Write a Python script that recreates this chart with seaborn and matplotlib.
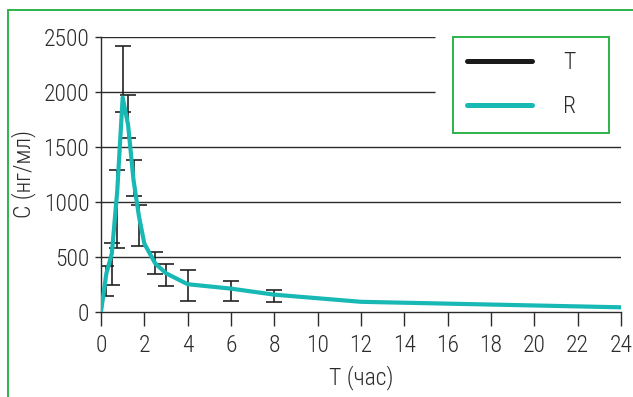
import numpy as np
import pandas as pd
import seaborn as sns
import matplotlib.pyplot as plt
from matplotlib.lines import Line2D

# R (reference) concentration curve
r_time = [0, 0.25, 0.5, 0.75, 1.0, 1.25, 1.5, 1.75, 2.0, 2.5, 3, 4, 6, 8, 12, 24]
r_conc = [0, 350, 530, 1100, 1950, 1700, 1200, 870, 620, 440, 350, 250, 210, 155, 90, 40]

# T (test) mean +/- SD
t_time = [0.25, 0.5, 0.75, 1.0, 1.25, 1.5, 1.75, 2.5, 3, 4, 6, 8]
t_mean = [281, 433, 935, 2115, 1778, 1216, 786, 444, 336, 240, 191, 145]
t_sd = [138, 190, 357, 301, 198, 161, 184, 103, 99, 140, 91, 53]

x_ticks = list(range(0, 25, 2))
y_ticks = [0, 500, 1000, 1500, 2000, 2500]

teal = "#18b8b5"
green = "#2db34a"
dark = "#2b2b2b"

sns.set_theme(style="white")
plt.rcParams['font.family'] = ['Roboto Condensed', 'DejaVu Sans']
plt.rcParams['font.weight'] = 'light'
plt.rcParams['axes.labelweight'] = 'light'
plt.rcParams['text.color'] = dark
plt.rcParams['axes.labelcolor'] = dark
plt.rcParams['xtick.color'] = dark
plt.rcParams['ytick.color'] = dark

fig = plt.figure(figsize=(6.33, 3.97), dpi=100)
ax = fig.add_axes([101/633, (397-311.7)/397, 520/633, 274.7/397])

df_r = pd.DataFrame({'t': r_time, 'c': r_conc})

# gridlines
for y in [500, 1000, 1500]:
    ax.axhline(y, color=dark, lw=1.0, zorder=1)
ax.hlines([2000, 2500], 0, 15.4, color=dark, lw=1.0, zorder=1)

ax.errorbar(t_time, t_mean, yerr=t_sd, fmt='none', ecolor='#222222',
            elinewidth=1.2, capsize=5.5, capthick=1.2, zorder=2)
sns.lineplot(x='t', y='c', data=df_r, color=teal, lw=3, ax=ax, zorder=3)

ax.set_xlim(0, 24)
ax.set_ylim(0, 2500)
ax.set_xticks(x_ticks)
ax.set_yticks(y_ticks)
ax.tick_params(axis='x', direction='out', length=10, width=1.0, pad=6, labelsize=17, bottom=True)
ax.tick_params(axis='y', direction='out', length=4.5, width=1.0, pad=4, labelsize=17, left=True)

for s in ['top', 'right']:
    ax.spines[s].set_visible(False)
for s in ['left', 'bottom']:
    ax.spines[s].set_color(dark)
    ax.spines[s].set_linewidth(1.0)

ax.set_xlabel("T (час)", fontsize=17, labelpad=6)
ax.set_ylabel("C (нг/мл)", fontsize=17, labelpad=5)

handles = [Line2D([], [], color='#1a1a1a', lw=3.6),
           Line2D([], [], color=teal, lw=3.6)]
leg = ax.legend(handles, ['T', 'R'], loc='upper left',
                bbox_to_anchor=(453/633, 1-131/397, 156/633, 94/397),
                bbox_transform=fig.transFigure, mode='expand',
                fontsize=17, frameon=True, fancybox=False,
                handlelength=2.75, handletextpad=1.3, labelspacing=0.9,
                borderpad=0.6, borderaxespad=0)
leg.get_frame().set_edgecolor(green)
leg.get_frame().set_linewidth(1.4)
leg.get_frame().set_alpha(1)

# green frame on the left and top of the figure
fig.add_artist(Line2D([8/633, 8/633], [0, 1-10/397], color=green, lw=1.4, transform=fig.transFigure))
fig.add_artist(Line2D([8/633, 1], [1-10/397, 1-10/397], color=green, lw=1.4, transform=fig.transFigure))

fig.savefig("out.png", dpi=100)
